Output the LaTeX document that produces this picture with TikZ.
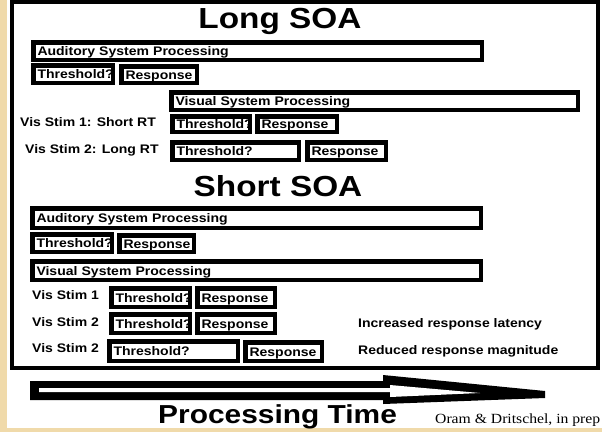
\documentclass[tikz,border=0pt]{standalone}
\usepackage{fontspec}
\setmainfont{Liberation Sans}
\newfontfamily\boxfont{Liberation Sans}[FakeStretch=1.13]
\newfontfamily\titlefont{Liberation Sans}[FakeStretch=1.15]
\newfontfamily\oramfont{Liberation Serif}[FakeStretch=1.12]
\definecolor{bgor}{RGB}{240,218,170}
\tikzset{
  bx/.style={draw, line width=4.5pt, fill=white, font=\boxfont\bfseries\fontsize{12.4}{14}\selectfont,
    inner xsep=4pt, inner ysep=0pt, text height=9pt, text depth=0pt, align=left},
  lbl/.style={font=\boxfont\bfseries\fontsize{12.4}{14}\selectfont, inner sep=0pt, text height=9pt, text depth=0pt},
  ttl/.style={font=\titlefont\bfseries\fontsize{29}{32}\selectfont, inner sep=0pt},
  ptime/.style={font=\titlefont\bfseries\fontsize{26}{30}\selectfont, inner sep=0pt},
  oram/.style={font=\oramfont\fontsize{14}{16}\selectfont, inner sep=0pt}
}
\newcommand\bx[6]{%
  \pgfmathsetmacro\bxw{#4-#2-4.5}%
  \pgfmathsetmacro\bxh{#5-#3-4.5}%
  \pgfmathsetmacro\bxt{#4-#2-12.5}%
  \pgfmathsetmacro\bxx{#2+2.25}%
  \pgfmathsetmacro\bxy{#3+2.25}%
  \node[bx, anchor=north west, minimum width=\bxw pt, minimum height=\bxh pt, text width=\bxt pt] (#1) at (\bxx,\bxy) {#6};}
\begin{document}
\begin{tikzpicture}[x=1pt,y=-1pt]
\useasboundingbox (0,0) rectangle (602,432);
\fill[bgor] (0,0) rectangle (602,432);
\fill[white] (7,0) rectangle (602,428);
\draw[line width=4pt] (12,2) rectangle (598,368);
% Long SOA
\node[ttl, anchor=base] (long) at (280,28) {Long SOA};
\bx{aud1}{29}{38}{482}{60}{Auditory System Processing}
\bx{thr1}{29}{61}{113}{83}{Threshold?}
\bx{res1}{117}{62}{197}{83}{Response}
\bx{vis1}{167}{88}{578}{110}{Visual System Processing}
\node[lbl, anchor=west] (l1) at (20,122) {Vis Stim 1: Short RT};
\bx{thr2}{168}{112}{250}{132}{Threshold?}
\bx{res2}{253}{112}{337}{132}{Response}
\node[lbl, anchor=west] (l2) at (25,149) {Vis Stim 2: Long RT};
\bx{thr3}{168}{138}{299}{160}{Threshold?}
\bx{res3}{303}{138}{386}{160}{Response}
% Short SOA
\node[ttl, anchor=base] (short) at (278,196) {Short SOA};
\bx{aud2}{28}{204}{481}{228}{Auditory System Processing}
\bx{thr4}{28}{230}{112}{252}{Threshold?}
\bx{res4}{115}{231}{194}{252}{Response}
\bx{vis2}{28}{257}{481}{280}{Visual System Processing}
\node[lbl, anchor=west] (l3) at (32,295) {Vis Stim 1};
\bx{thr5}{107}{284}{190}{307}{Threshold?}
\bx{res5}{193}{284}{275}{307}{Response}
\node[lbl, anchor=west] (l4) at (32,321.5) {Vis Stim 2};
\bx{thr6}{107}{310}{190}{333}{Threshold?}
\bx{res6}{193}{310}{275}{333}{Response}
\node[lbl, anchor=west] (l5) at (32,348) {Vis Stim 2};
\bx{thr7}{105}{337}{238}{361}{Threshold?}
\bx{res7}{241}{338}{322}{361}{Response}
\node[lbl, anchor=west] (n1) at (358,323) {Increased response latency};
\node[lbl, anchor=west] (n2) at (358,350) {Reduced response magnitude};
% arrow
\fill[black] (30,381) -- (383,381) -- (383,375) -- (545,391) -- (545,398) -- (383,404) -- (383,400) -- (30,400) -- cycle;
\fill[white] (39,388) -- (390,388) -- (390,385) -- (480,393) -- (390,397) -- (390,392) -- (39,392) -- cycle;
\node[ptime, anchor=base west] (pt) at (158,423) {Processing Time};
\node[oram, anchor=base west] (cite) at (435,423) {Oram \& Dritschel, in prep};
\end{tikzpicture}
\end{document}
